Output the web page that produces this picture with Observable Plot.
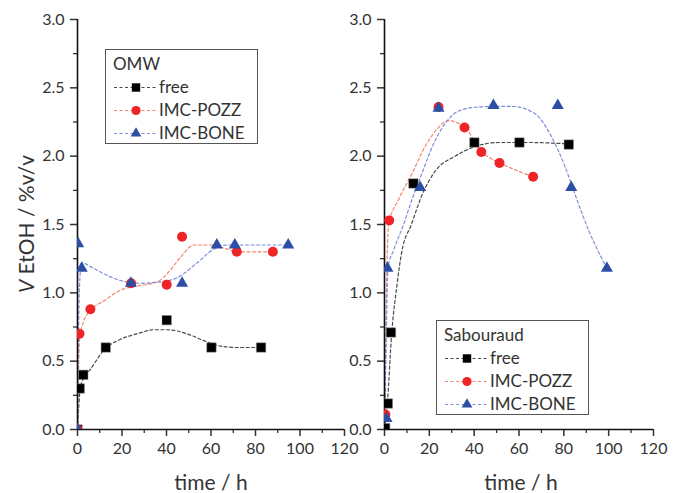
<!DOCTYPE html>
<html>
<head>
<meta charset="utf-8">
<script src="https://cdn.jsdelivr.net/npm/d3@7"></script>
<script src="https://cdn.jsdelivr.net/npm/@observablehq/plot@0.6"></script>
<style>
  body { margin: 0; background: #fff; }
  #wrap { position: relative; width: 685px; height: 493px; overflow: hidden; font-family: Lato, "Open Sans", sans-serif; color: #333; }
  .panel { position: absolute; top: 0; }
  .ylab { position: absolute; white-space: nowrap; font-size: 21px; transform: translate(-50%, -50%) rotate(-90deg); }
  .xlab { position: absolute; white-space: nowrap; font-size: 21px; transform: translate(-50%, -50%); }
  .legend { position: absolute; }
</style>
</head>
<body>
<div id="wrap"></div>
<script>
// ---------- axis ticks ----------
const xTicks = [0, 20, 40, 60, 80, 100, 120];
const xMinor = [10, 30, 50, 70, 90, 110];
const yTicks = [0, 0.5, 1.0, 1.5, 2.0, 2.5, 3.0];
const yMinor = [0.25, 0.75, 1.25, 1.75, 2.25, 2.75];

const seriesNames = ["free", "IMC-POZZ", "IMC-BONE"];
const panelTitles = ["OMW", "Sabouraud"];
const xTitle = "time / h";

// ---------- OMW (left) measured points ----------
const omwFreeT = [0, 1.0, 2.6, 12.7, 40.1, 60.2, 82.5];
const omwFreeV = [0, 0.30, 0.40, 0.60, 0.80, 0.60, 0.60];
const omwPozzT = [0, 0.9, 5.8, 24.1, 40.1, 47.0, 71.6, 87.8];
const omwPozzV = [0, 0.70, 0.88, 1.07, 1.06, 1.41, 1.30, 1.30];
const omwBoneT = [0, 0.3, 1.9, 24.0, 47.0, 62.6, 70.7, 94.7];
const omwBoneV = [0, 1.36, 1.18, 1.07, 1.07, 1.35, 1.35, 1.35];

// ---------- OMW fitted curves ----------
const omwFreeFitT = [0, 0.5, 1.3, 3, 5.8, 11.8, 19.3, 26.8, 34.3, 40.3, 49.3, 56.8, 64.3, 71.8, 82.2];
const omwFreeFitV = [0, 0.15, 0.31, 0.38, 0.44, 0.58, 0.66, 0.70, 0.73, 0.73, 0.70, 0.65, 0.61, 0.60, 0.60];
const omwPozzFitT = [0, 0.3, 0.9, 2.5, 5.8, 11.8, 19.3, 26.8, 35.8, 40.3, 46.3, 52.3, 59.8, 67.3, 71.8, 87.8];
const omwPozzFitV = [0, 0.30, 0.65, 0.78, 0.87, 0.94, 1.02, 1.05, 1.08, 1.14, 1.26, 1.35, 1.35, 1.32, 1.30, 1.30];
const omwBoneFitT = [0, 0.3, 0.9, 1.8, 6, 11.8, 19.3, 26.8, 37.3, 44.8, 53.8, 61.3, 67.3, 80, 94.7];
const omwBoneFitV = [0, 0.50, 1.05, 1.22, 1.19, 1.14, 1.09, 1.07, 1.08, 1.11, 1.22, 1.32, 1.35, 1.35, 1.35];

// ---------- Sabouraud (right) measured points ----------
const sabFreeT = [0.3, 1.5, 2.9, 12.9, 40.1, 60.2, 82.2];
const sabFreeV = [0.01, 0.19, 0.71, 1.80, 2.10, 2.10, 2.085];
const sabPozzT = [0.4, 2.1, 24.1, 35.7, 43.2, 51.3, 66.3];
const sabPozzV = [0.11, 1.53, 2.36, 2.21, 2.03, 1.95, 1.85];
const sabBoneT = [0.9, 1.3, 15.9, 24.1, 48.6, 77.3, 83.3, 99.2];
const sabBoneV = [0.08, 1.18, 1.77, 2.35, 2.37, 2.37, 1.77, 1.18];

// ---------- Sabouraud fitted curves ----------
const sabFreeFitT = [0, 1.3, 3.2, 5.5, 7.7, 12, 16.6, 22.6, 31.5, 40.4, 50.8, 64.2, 82.2];
const sabFreeFitV = [0, 0.20, 0.70, 1.05, 1.30, 1.50, 1.71, 1.89, 2.00, 2.07, 2.10, 2.10, 2.09];
const sabPozzFitT = [0, 0.5, 1.0, 1.8, 6.2, 12.2, 18.1, 24.1, 28.5, 33, 36, 43.3, 47.9, 51.4, 59.8, 66.3];
const sabPozzFitV = [0, 0.50, 1.10, 1.50, 1.68, 1.87, 2.07, 2.21, 2.26, 2.24, 2.21, 2.03, 1.98, 1.95, 1.89, 1.85];
const sabBoneFitT = [0, 0.7, 1.5, 4, 8.5, 12.2, 16.6, 21.9, 27.1, 33, 41.9, 56.8, 67.2, 74.6, 80.6, 85, 91, 99.2];
const sabBoneFitV = [0, 0.60, 1.18, 1.31, 1.50, 1.68, 1.87, 2.09, 2.24, 2.33, 2.36, 2.365, 2.31, 2.14, 1.92, 1.72, 1.46, 1.18];

// ---------- styles ----------
const markColor = { free: "#000000", pozz: "#ee2426", bone: "#2c4ea5" };
const fitColor  = { free: "#4a4a4a", pozz: "#f4866c", bone: "#7d8fd8" };
const dash = "3,2.5";

const rows = (t, v) => t.map((x, i) => ({ t: x, v: v[i] }));

function panel(cfg) {
  const fitOpts = (c) => ({ x: "t", y: "v", curve: "monotone-x", stroke: c, strokeWidth: 1.2, strokeDasharray: dash });
  return Plot.plot({
    width: cfg.width, height: 493,
    marginLeft: 77, marginRight: cfg.width - 77 - cfg.inner, marginTop: 19, marginBottom: 64,
    x: { domain: [0, 120], axis: null },
    y: { domain: [0, 3], axis: null },
    style: { fontFamily: "Lato, 'Open Sans', sans-serif", fontSize: "16px", color: "#333", background: "transparent", overflow: "visible" },
    marks: [
      Plot.line(rows(cfg.freeFit[0], cfg.freeFit[1]), fitOpts(fitColor.free)),
      Plot.line(rows(cfg.pozzFit[0], cfg.pozzFit[1]), fitOpts(fitColor.pozz)),
      Plot.line(rows(cfg.boneFit[0], cfg.boneFit[1]), fitOpts(fitColor.bone)),
      Plot.axisX(xMinor, { tickSize: 4, strokeWidth: 1.3, tickFormat: () => "", label: null }),
      Plot.axisX(xTicks, { tickSize: 7, strokeWidth: 1.5, tickPadding: 6, tickFormat: (d) => String(d), label: null, fontSize: 16 }),
      Plot.axisY(yMinor, { tickSize: 4, strokeWidth: 1.3, tickFormat: () => "", label: null }),
      Plot.axisY(yTicks, { tickSize: 7, strokeWidth: 1.5, tickPadding: 6, tickFormat: d3.format(".1f"), label: null, fontSize: 16 }),
      Plot.ruleX([0], { stroke: "#111", strokeWidth: 1.6 }),
      Plot.ruleY([0], { stroke: "#111", strokeWidth: 1.6 }),
      Plot.dot(rows(cfg.free[0], cfg.free[1]), { x: "t", y: "v", symbol: "square", r: 5.3, fill: markColor.free, stroke: "#888", strokeWidth: 0.5, clip: true }),
      Plot.dot(rows(cfg.pozz[0], cfg.pozz[1]), { x: "t", y: "v", symbol: "circle", r: 5, fill: markColor.pozz, clip: true }),
      Plot.dot(rows(cfg.bone[0], cfg.bone[1]), { x: "t", y: "v", symbol: "triangle", r: 4.5, fill: markColor.bone, clip: true })
    ]
  });
}

const wrap = document.getElementById("wrap");

function place(el, left) {
  el.classList.add("panel");
  el.style.left = left + "px";
  wrap.appendChild(el);
}

place(panel({
  width: 360, inner: 267,
  free: [omwFreeT, omwFreeV], pozz: [omwPozzT, omwPozzV], bone: [omwBoneT, omwBoneV],
  freeFit: [omwFreeFitT, omwFreeFitV], pozzFit: [omwPozzFitT, omwPozzFitV], boneFit: [omwBoneFitT, omwBoneFitV]
}), 0);

place(panel({
  width: 362, inner: 269,
  free: [sabFreeT, sabFreeV], pozz: [sabPozzT, sabPozzV], bone: [sabBoneT, sabBoneV],
  freeFit: [sabFreeFitT, sabFreeFitV], pozzFit: [sabPozzFitT, sabPozzFitV], boneFit: [sabBoneFitT, sabBoneFitV]
}), 307);

// axis titles
const yl = document.createElement("div");
yl.className = "ylab";
yl.style.left = "25px"; yl.style.top = "224px";
yl.innerHTML = "<i>V</i> EtOH / %v/v";
wrap.appendChild(yl);

[[211, 481], [521, 481]].forEach(([x, y]) => {
  const d = document.createElement("div");
  d.className = "xlab";
  d.style.left = x + "px"; d.style.top = y + "px";
  d.textContent = xTitle;
  wrap.appendChild(d);
});

// legends
function legend(title, left, top) {
  const W = 153, H = 95;
  const svg = d3.create("svg").attr("class", "legend").attr("width", W).attr("height", H)
    .style("left", left + "px").style("top", top + "px")
    .style("font-family", "Lato, 'Open Sans', sans-serif").style("font-size", "17px");
  svg.append("rect").attr("x", 0.5).attr("y", 0.5).attr("width", W - 1).attr("height", H - 1)
    .attr("fill", "none").attr("stroke", "#555").attr("stroke-width", 1);
  svg.append("text").attr("x", 8).attr("y", 15).attr("dy", "0.35em").attr("fill", "#333").text(title);
  const keys = ["free", "pozz", "bone"];
  const ys = [38.5, 61.5, 84.5];
  keys.forEach((k, i) => {
    const y = ys[i];
    svg.append("line").attr("x1", 9).attr("x2", 52).attr("y1", y).attr("y2", y)
      .attr("stroke", fitColor[k]).attr("stroke-width", 1.2).attr("stroke-dasharray", dash);
    if (k === "free") svg.append("rect").attr("x", 31 - 4.2).attr("y", y - 4.2).attr("width", 8.4).attr("height", 8.4).attr("fill", markColor.free);
    if (k === "pozz") svg.append("circle").attr("cx", 31).attr("cy", y).attr("r", 4.6).attr("fill", markColor.pozz);
    if (k === "bone") svg.append("path").attr("d", d3.symbol(d3.symbolTriangle, 50)()).attr("transform", `translate(31,${y})`).attr("fill", markColor.bone);
    svg.append("text").attr("x", 54).attr("y", y).attr("dy", "0.35em").attr("fill", "#333").text(seriesNames[i]);
  });
  wrap.appendChild(svg.node());
}
legend(panelTitles[0], 105, 49);
legend(panelTitles[1], 436, 320);
</script>
</body>
</html>
